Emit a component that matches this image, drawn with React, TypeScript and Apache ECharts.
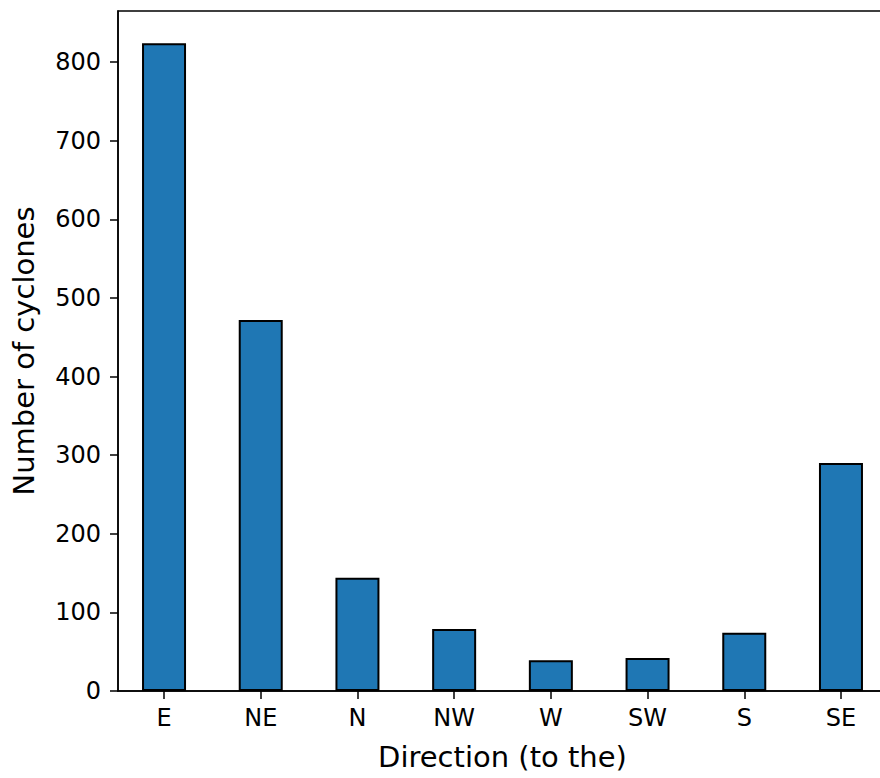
import React, { useEffect, useRef } from "react";
import * as echarts from "echarts";

const categories = ["E", "NE", "N", "NW", "W", "SW", "S", "SE"];
const cycloneCounts = [824, 472, 144, 79, 39, 42, 74, 290];
const yTicks = [0, 100, 200, 300, 400, 500, 600, 700, 800];

export default function App() {
  const ref = useRef<HTMLDivElement>(null);
  useEffect(() => {
    if (!ref.current) return;
    const chart = echarts.init(ref.current, null, { renderer: "svg" });
    const font = "DejaVu Sans";
    const idx = categories.map((_, i) => i);
    chart.setOption({
      animation: false,
      backgroundColor: "#ffffff",
      grid: {
        left: 118,
        top: 11,
        right: 12,
        bottom: 87,
        show: true,
        borderColor: "#000",
        borderWidth: 1.5,
        backgroundColor: "transparent",
      },
      xAxis: {
        type: "value",
        min: -0.476,
        max: 7.476,
        name: "Direction (to the)",
        nameLocation: "middle",
        nameGap: 51,
        nameTextStyle: { fontFamily: font, fontSize: 29, color: "#000" },
        axisLine: { show: true, onZero: false, lineStyle: { color: "#000", width: 1.5 } },
        axisTick: { show: true, length: 8, customValues: idx, lineStyle: { color: "#000", width: 1.5 } },
        axisLabel: {
          customValues: idx,
          margin: 15,
          fontFamily: font,
          fontSize: 24,
          color: "#000",
          formatter: (v: number) => categories[Math.round(v)] ?? "",
        },
        splitLine: { show: false },
      },
      yAxis: {
        type: "value",
        min: 0,
        max: 865,
        interval: 100,
        name: "Number of cyclones",
        nameLocation: "middle",
        nameGap: 80,
        nameTextStyle: { fontFamily: font, fontSize: 29, color: "#000" },
        axisLine: { show: true, onZero: false, lineStyle: { color: "#000", width: 1.5 } },
        axisTick: { show: true, length: 8, customValues: yTicks, lineStyle: { color: "#000", width: 1.5 } },
        axisLabel: {
          customValues: yTicks,
          margin: 17,
          fontFamily: font,
          fontSize: 24,
          color: "#000",
        },
        splitLine: { show: false },
      },
      series: [
        {
          type: "bar",
          barWidth: 44,
          data: cycloneCounts.map((v, i) => [i, v]),
          itemStyle: { color: "#1f77b4", borderColor: "#000", borderWidth: 2 },
        },
      ],
    });
    return () => chart.dispose();
  }, []);
  return (
    <div style={{ position: "absolute", left: 0, top: 0, width: 880, height: 778, overflow: "hidden" }}>
      <div ref={ref} style={{ width: 899, height: 778 }} />
    </div>
  );
}
